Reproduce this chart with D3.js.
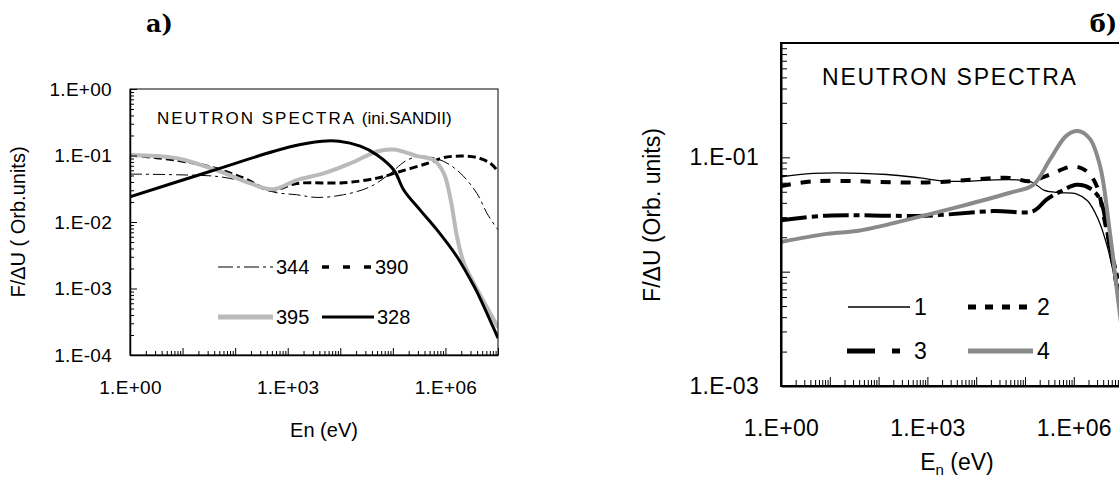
<!DOCTYPE html>
<html>
<head>
<meta charset="utf-8">
<script src="https://cdn.jsdelivr.net/npm/d3@7"></script>
<style>
  body { margin: 0; background: #fff; }
  svg { display: block; font-family: "Liberation Sans", Arial, sans-serif; }
</style>
</head>
<body>
<svg id="chart" width="1119" height="478"></svg>
<script>
// ---- panel a) : energies in eV, F/dU in arbitrary units
const enA344 = [1, 7.8, 51, 195, 537, 1480, 3630, 11500, 37200, 89100, 186000, 389000, 933000, 1.95e6, 3.98e6, 6.17e6, 1e7];
const fA344  = [0.0525, 0.0513, 0.0479, 0.038, 0.0282, 0.0257, 0.0234, 0.0257, 0.0339, 0.0537, 0.0851, 0.0977, 0.0813, 0.0537, 0.0269, 0.0135, 0.0076];

const enA390 = [1, 7.8, 33, 145, 468, 1480, 11500, 50000, 138000, 447000, 933000, 1.95e6, 3.98e6, 7.24e6, 1e7];
const fA390  = [0.102, 0.085, 0.0676, 0.0457, 0.030, 0.038, 0.0389, 0.0457, 0.0575, 0.0759, 0.0933, 0.098, 0.0933, 0.0759, 0.0575];

const enA395 = [1, 7.8, 51, 195, 540, 1480, 4800, 15500, 50000, 105000, 288000, 603000, 933000, 1.26e6, 1.66e6, 2.24e6, 2.75e6, 4.37e6, 1e7];
const fA395  = [0.102, 0.091, 0.0575, 0.038, 0.031, 0.0427, 0.0537, 0.0759, 0.115, 0.123, 0.098, 0.085, 0.0537, 0.0214, 0.0060, 0.0024, 0.0017, 0.00085, 0.00026];

const enA328 = [1, 33, 1120, 4500, 9500, 24000, 50000, 105000, 162000, 331000, 692000, 1.66e6, 3.0e6, 3.98e6, 1e7];
const fA328  = [0.024, 0.0575, 0.135, 0.164, 0.164, 0.138, 0.102, 0.060, 0.030, 0.0151, 0.0076, 0.0030, 0.00135, 0.00089, 0.00018];

// ---- panel б)
const enB1 = [1, 4.57, 148, 708, 2510, 126000, 251000, 525000, 1.12e6, 1.91e6, 3.16e6, 5.01e6, 7.08e6, 1e7, 1.58e7];
const fB1  = [0.0676, 0.0724, 0.0708, 0.0661, 0.0617, 0.0617, 0.0513, 0.049, 0.0479, 0.0417, 0.0288, 0.0158, 0.0079, 0.0025, 0.00063];

const enB2 = [1, 4.57, 977, 49000, 126000, 324000, 977000, 1.82e6, 2.95e6, 4.07e6, 6.46e6, 1e7, 1.58e7];
const fB2  = [0.0562, 0.0617, 0.0603, 0.0661, 0.0617, 0.0708, 0.0832, 0.0759, 0.0562, 0.0309, 0.0112, 0.0032, 0.00063];

const enB3 = [1, 8.7, 977, 22400, 148000, 275000, 525000, 1.15e6, 2.14e6, 3.47e6, 5.5e6, 8.5e6, 1.26e7, 1.78e7];
const fB3  = [0.0282, 0.0309, 0.0309, 0.0339, 0.0339, 0.0427, 0.0501, 0.0575, 0.0537, 0.0427, 0.0166, 0.0074, 0.0020, 0.00063];

const enB4 = [1, 8.7, 41.7, 437, 4680, 49000, 148000, 324000, 708000, 1.23e6, 2.14e6, 3.47e6, 5.5e6, 8.13e6, 1.26e7];
const fB4  = [0.0182, 0.0214, 0.0229, 0.0288, 0.0372, 0.049, 0.0575, 0.0955, 0.155, 0.170, 0.145, 0.0832, 0.0219, 0.0056, 0.00126];

const xLabelsA = [1, 1e3, 1e6];
const yLabelsA = [1e-4, 1e-3, 1e-2, 1e-1, 1];
const xLabelsB = [1, 1e3, 1e6];
const yLabelsB = [1e-3, 1e-1];

const zip = (xs, ys) => xs.map((x, i) => [x, ys[i]]);
const sci = d => {
  const p = Math.round(Math.log10(d));
  return "1.E" + (p < 0 ? "-" : "+") + String(Math.abs(p)).padStart(2, "0");
};
const logTicks = (lo, hi) => {
  const t = [];
  for (let e = lo; e < hi; e++) for (let k = 1; k < 10; k++) t.push(k * Math.pow(10, e));
  t.push(Math.pow(10, hi));
  return t;
};
const isDecade = d => Math.abs(Math.log10(d) - Math.round(Math.log10(d))) < 1e-9;
const hasVal = (arr, d) => arr.some(v => Math.abs(Math.log10(v) - Math.log10(d)) < 1e-9);

const svg = d3.select("#chart");

function panel(cfg) {
  const g = svg.append("g");
  const x = d3.scaleLog().domain(cfg.xDom).range([cfg.left, cfg.right]);
  const y = d3.scaleLog().domain(cfg.yDom).range([cfg.bottom, cfg.top]);

  const clipId = "clip" + cfg.id;
  svg.append("clipPath").attr("id", clipId)
    .append("rect").attr("x", cfg.left).attr("y", cfg.top)
    .attr("width", cfg.right - cfg.left).attr("height", cfg.bottom - cfg.top);

  // curves
  const line = d3.line().x(d => x(d[0])).y(d => y(d[1])).curve(d3.curveCatmullRom.alpha(0.5));
  cfg.series.forEach(s => {
    g.append("path")
      .attr("clip-path", `url(#${clipId})`)
      .attr("d", line(zip(s.en, s.f)))
      .attr("fill", "none")
      .attr("stroke", s.color)
      .attr("stroke-width", s.width)
      .attr("stroke-dasharray", s.dash || null)
      .attr("stroke-linejoin", "round");
  });

  // frame
  g.append("rect")
    .attr("x", cfg.left).attr("y", cfg.top)
    .attr("width", cfg.right - cfg.left).attr("height", cfg.bottom - cfg.top)
    .attr("fill", "none").attr("stroke", "#000").attr("stroke-width", cfg.frameW);

  // x axis (inward ticks)
  const xa = g.append("g")
    .attr("transform", `translate(0,${cfg.bottom})`)
    .call(d3.axisBottom(x)
      .tickValues(logTicks(cfg.xExp[0], cfg.xExp[1]))
      .tickSizeInner(-cfg.minor).tickSizeOuter(0)
      .tickPadding(cfg.xPad)
      .tickFormat(d => hasVal(cfg.xLabels, d) ? sci(d) : ""));
  xa.select(".domain").attr("stroke-width", cfg.axisW);
  xa.selectAll(".tick line").filter(d => isDecade(d)).attr("y2", -cfg.major);
  xa.selectAll("text").attr("font-size", cfg.tickFont).attr("fill", "#000")
    .attr("letter-spacing", cfg.tickLs).attr("font-family", "Liberation Sans, Arial, sans-serif");

  // y axis (inward ticks)
  const ya = g.append("g")
    .attr("transform", `translate(${cfg.left},0)`)
    .call(d3.axisLeft(y)
      .tickValues(logTicks(cfg.yExp[0], cfg.yExp[1]))
      .tickSizeInner(-cfg.minor).tickSizeOuter(0)
      .tickPadding(cfg.yPad)
      .tickFormat(d => hasVal(cfg.yLabels, d) ? sci(d) : ""));
  ya.select(".domain").attr("stroke-width", cfg.axisW);
  ya.selectAll(".tick line").filter(d => isDecade(d)).attr("x2", cfg.major);
  ya.selectAll("text").attr("font-size", cfg.tickFont).attr("fill", "#000")
    .attr("letter-spacing", cfg.tickLs).attr("font-family", "Liberation Sans, Arial, sans-serif");

  return { g, x, y };
}

// ---------- panel a)
const A = panel({
  id: "A", left: 130, right: 498, top: 89, bottom: 355,
  xDom: [1, 1e7], yDom: [1e-4, 1], xExp: [0, 7], yExp: [-4, 0],
  xLabels: xLabelsA, yLabels: yLabelsA,
  minor: 4, major: 7, xPad: 26, yPad: 18, tickFont: 19, tickLs: 0.3,
  axisW: 1.5, frameW: 1,
  series: [
    { en: enA344, f: fA344, color: "#000", width: 1, dash: "12,4,3,4" },
    { en: enA390, f: fA390, color: "#000", width: 3, dash: "8,4" },
    { en: enA395, f: fA395, color: "#bababa", width: 4 },
    { en: enA328, f: fA328, color: "#000", width: 3 }
  ]
});

A.g.append("text").attr("x", 157).attr("y", 124)
  .attr("font-size", 17).attr("letter-spacing", 2)
  .text("NEUTRON SPECTRA ")
  .append("tspan").attr("letter-spacing", 0).text("(ini.SANDII)");

A.g.append("text").attr("x", 324).attr("y", 437).attr("text-anchor", "middle")
  .attr("font-size", 20).text("En (eV)");

A.g.append("text").attr("transform", "translate(25,222) rotate(-90)")
  .attr("text-anchor", "middle").attr("font-size", 20).text("F/\u0394U ( Orb.units)");

A.g.append("text").attr("x", 146).attr("y", 32)
  .attr("font-family", "DejaVu Serif, serif").attr("font-weight", "bold")
  .attr("font-size", 24).text("a)");

const legA = [
  { name: "344", x0: 218, x1: 273, y: 267, color: "#000", width: 1.2, dash: "15,4,3,4" },
  { name: "390", x0: 322, x1: 372, y: 267, color: "#000", width: 3.5, dash: "7,14" },
  { name: "395", x0: 218, x1: 273, y: 317, color: "#bababa", width: 5 },
  { name: "328", x0: 322, x1: 374, y: 317, color: "#000", width: 3 }
];
legA.forEach(l => {
  A.g.append("line").attr("x1", l.x0).attr("x2", l.x1).attr("y1", l.y).attr("y2", l.y)
    .attr("stroke", l.color).attr("stroke-width", l.width).attr("stroke-dasharray", l.dash || null);
  A.g.append("text").attr("x", l.x1 + 3).attr("y", l.y).attr("dy", "0.36em")
    .attr("font-size", 20).text(l.name);
});

// ---------- panel б) (cut at the right edge of the picture)
const B = panel({
  id: "B", left: 781, right: 781 + 8 * 48.8, top: 43, bottom: 386,
  xDom: [1, 1e8], yDom: [1e-3, 1], xExp: [0, 8], yExp: [-3, 0],
  xLabels: xLabelsB, yLabels: yLabelsB,
  minor: 6, major: 9, xPad: 34, yPad: 22, tickFont: 23, tickLs: 0.3,
  axisW: 2, frameW: 2,
  series: [
    { en: enB1, f: fB1, color: "#000", width: 1.3 },
    { en: enB2, f: fB2, color: "#000", width: 4, dash: "10,10" },
    { en: enB3, f: fB3, color: "#000", width: 4, dash: "26,5,6,5" },
    { en: enB4, f: fB4, color: "#8a8a8a", width: 4 }
  ]
});

B.g.append("text").attr("x", 822).attr("y", 85)
  .attr("font-size", 23).attr("letter-spacing", 1.8).text("NEUTRON SPECTRA");

const xt = B.g.append("text").attr("x", 957).attr("y", 470).attr("text-anchor", "middle")
  .attr("font-size", 23);
xt.append("tspan").text("E");
xt.append("tspan").attr("font-size", 15).attr("dy", 5).text("n");
xt.append("tspan").attr("dy", -5).text(" (eV)");

B.g.append("text").attr("transform", "translate(660,215) rotate(-90)")
  .attr("text-anchor", "middle").attr("font-size", 23).text("F/\u0394U (Orb. units)");

B.g.append("text").attr("x", 1117).attr("y", 32).attr("text-anchor", "end")
  .attr("font-family", "DejaVu Serif, serif").attr("font-weight", "bold")
  .attr("font-size", 24).text("\u0431)");

const legB = [
  { name: "1", x0: 848, x1: 910, y: 307, color: "#000", width: 1.3 },
  { name: "2", x0: 968, x1: 1033, y: 307, color: "#000", width: 5, dash: "8,9" },
  { name: "3", x0: 847, x1: 910, y: 351, color: "#000", width: 5, dash: "28,17,8,40" },
  { name: "4", x0: 968, x1: 1033, y: 351, color: "#8a8a8a", width: 5 }
];
legB.forEach(l => {
  B.g.append("line").attr("x1", l.x0).attr("x2", l.x1).attr("y1", l.y).attr("y2", l.y)
    .attr("stroke", l.color).attr("stroke-width", l.width).attr("stroke-dasharray", l.dash || null);
  B.g.append("text").attr("x", l.x1 + 4).attr("y", l.y).attr("dy", "0.36em")
    .attr("font-size", 23).text(l.name);
});
</script>
</body>
</html>
